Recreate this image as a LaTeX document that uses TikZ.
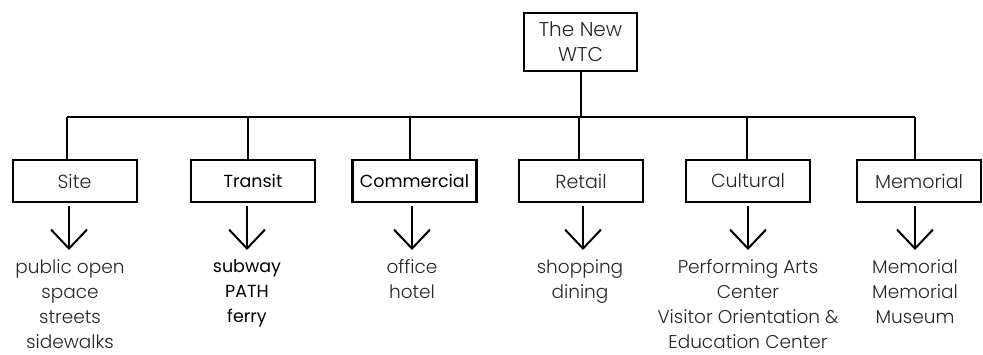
\documentclass[tikz,border=0pt]{standalone}
\usepackage{fontspec}
\setmainfont{Poppins}[UprightFont=* Light, BoldFont=* Regular]
\usetikzlibrary{arrows.meta}
\begin{document}
\begin{tikzpicture}[x=1pt,y=-1pt,
  cat/.style={draw=black,line width=2pt,minimum width=124pt,minimum height=42pt,inner sep=0pt,font=\fontsize{19}{22}\selectfont,text=black!85},
  catb/.style={cat,line width=2.6pt,font=\fontsize{17.5}{20}\selectfont\bfseries,text=black},
  top/.style={draw=black,line width=2pt,minimum width=113pt,minimum height=58pt,inner sep=0pt,align=center,font=\fontsize{20}{25}\selectfont,text=black!85},
  items/.style={anchor=north,align=center,font=\fontsize{18.5}{25}\selectfont,text=black!85},
  itemsb/.style={items,font=\fontsize{17.5}{25}\selectfont\bfseries,text=black},
  conn/.style={line width=2pt},
  arr/.style={line width=2pt,-{Straight Barb[length=19pt,width=36pt,line width=2pt]}}
]
\useasboundingbox (0,0) rectangle (983,354);
\node[top] (wtc) at (580.5,42) {The New\\WTC};
\coordinate (bus) at (580.5,117);
\node[cat]  (site) at (74.5,181) {Site};
\node[catb] (transit) at (253,181) {Transit};
\node[catb] (comm) at (414.5,181) {Commercial};
\node[cat]  (retail) at (581,181) {Retail};
\node[cat]  (cult) at (748,181) {Cultural};
\node[cat]  (mem) at (919,181) {Memorial};
\draw[conn] (wtc.south) -- (bus);
\coordinate (bl) at (67,117);
\coordinate (br) at (915,117);
\draw[conn] (bl) -- (br);
\foreach \n/\x in {site/67,transit/248,comm/410,retail/579,cult/747,mem/915}{
  \draw[conn] (\x,117) -- (\x,160);
}
\foreach \n/\x in {site/69,transit/247,comm/412,retail/583,cult/748,mem/915}{
  \coordinate (\n-t) at (\x,250);
  \draw[arr] ([yshift=-3pt]\n.south -| \n-t) -- (\n-t);
}
\node[items] (i1) at (70,256) {public open\\space\\streets\\sidewalks};
\node[itemsb] (i2) at (247,256) {subway\\PATH\\ferry};
\node[items] (i3) at (412,256) {office\\hotel};
\node[items] (i4) at (580,256) {shopping\\dining};
\node[items] (i5) at (748,256) {Performing Arts\\Center\\Visitor Orientation \&\\Education Center};
\node[items] (i6) at (915,256) {Memorial\\Memorial\\Museum};
\end{tikzpicture}
\end{document}
